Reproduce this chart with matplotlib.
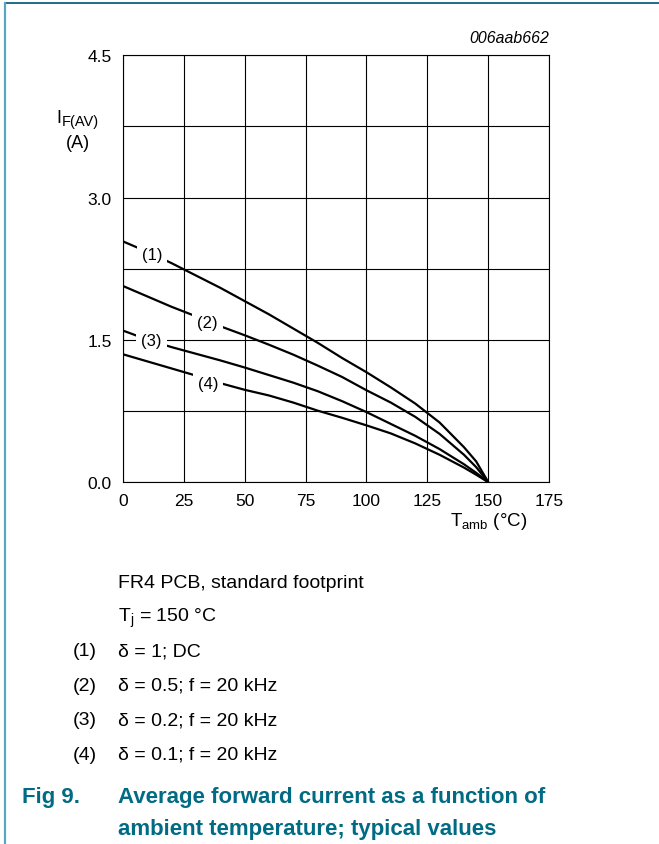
import matplotlib
matplotlib.use("Agg")
import matplotlib.pyplot as plt
from matplotlib.lines import Line2D

# data (T_amb in °C, I_F(AV) in A)
t_amb = [0, 10, 20, 30, 40, 50, 60, 70, 80, 90, 100, 110, 120, 130, 140, 145, 150]
i_dc = [2.54, 2.43, 2.31, 2.18, 2.05, 1.91, 1.77, 1.62, 1.47, 1.31, 1.16, 1.00, 0.83, 0.63, 0.37, 0.22, 0.0]
i_d05 = [2.07, 1.96, 1.85, 1.75, 1.645, 1.55, 1.45, 1.345, 1.23, 1.11, 0.97, 0.84, 0.69, 0.51, 0.29, 0.16, 0.0]
i_d02 = [1.60, 1.505, 1.425, 1.355, 1.285, 1.21, 1.13, 1.05, 0.96, 0.855, 0.74, 0.615, 0.49, 0.35, 0.19, 0.10, 0.0]
i_d01 = [1.35, 1.275, 1.20, 1.125, 1.045, 0.975, 0.915, 0.84, 0.755, 0.68, 0.60, 0.515, 0.41, 0.29, 0.155, 0.08, 0.0]

curve_labels = ["(1)", "(2)", "(3)", "(4)"]
label_pos = [(12, 2.405), (34.7, 1.686), (11.9, 1.492), (34.9, 1.046)]

x_ticks = [0, 25, 50, 75, 100, 125, 150, 175]
y_ticks = [0, 0.75, 1.5, 2.25, 3.0, 3.75, 4.5]
y_ticklabels = ["0.0", "", "1.5", "", "3.0", "", "4.5"]

note_fr4 = "FR4 PCB, standard footprint"
note_tj = r"T$_\mathregular{j}$ = 150 °C"
cond_ids = ["(1)", "(2)", "(3)", "(4)"]
cond_text = ["δ = 1; DC", "δ = 0.5; f = 20 kHz", "δ = 0.2; f = 20 kHz", "δ = 0.1; f = 20 kHz"]
caption = ["Average forward current as a function of", "ambient temperature; typical values"]

plt.rcParams["font.family"] = ["Liberation Sans", "DejaVu Sans"]
plt.rcParams["mathtext.fontset"] = "custom"
plt.rcParams["mathtext.rm"] = "Liberation Sans"
plt.rcParams["mathtext.it"] = "Liberation Sans"

teal = "#006b83"
W, H = 659, 845


def px(x, y):
    # pixel position (from top left) -> figure fraction
    return x / W, 1 - y / H


fig = plt.figure(figsize=(W / 100, H / 100), dpi=100)
ax = fig.add_axes([122.7 / W, 1 - 483.3 / H, 426.6 / W, 427 / H])

for ys in (i_dc, i_d05, i_d02, i_d01):
    ax.plot(t_amb, ys, color="black", lw=1.6, zorder=3, solid_capstyle="butt")

for lab, (x, y) in zip(curve_labels, label_pos):
    ax.text(x, y, lab, ha="center", va="center", fontsize=12, zorder=5,
            bbox=dict(boxstyle="square,pad=0.3", fc="white", ec="none"))

ax.set_xlim(0, 175)
ax.set_ylim(0, 4.5)
ax.set_xticks(x_ticks)
ax.set_yticks(y_ticks)
ax.set_yticklabels(y_ticklabels)
ax.tick_params(length=0, labelsize=12.5)
ax.tick_params(axis="y", pad=8)
ax.tick_params(axis="x", pad=8)
ax.grid(True, color="black", lw=0.8)
ax.set_axisbelow(True)
for s in ax.spines.values():
    s.set_linewidth(0.8)

fig.text(*px(549, 43), "006aab662", ha="right", va="baseline",
         fontsize=11.4, style="italic")

# axis titles
fig.text(*px(56, 123), "I", ha="left", va="baseline", fontsize=13)
fig.text(*px(62, 126), "F(AV)", ha="left", va="baseline", fontsize=10.5)
fig.text(*px(78, 148), "(A)", ha="center", va="baseline", fontsize=13)
fig.text(*px(527, 526.5), r"T$_\mathregular{amb}$ (°C)", ha="right",
         va="baseline", fontsize=13.5)

# notes under the chart
fig.text(*px(118, 588), note_fr4, ha="left", va="baseline", fontsize=14)
fig.text(*px(118, 622), note_tj, ha="left", va="baseline", fontsize=14)
for k, (cid, txt) in enumerate(zip(cond_ids, cond_text)):
    yb = 656.5 + 34.4 * k
    fig.text(*px(73, yb), cid, ha="left", va="baseline", fontsize=14)
    fig.text(*px(118, yb), txt, ha="left", va="baseline", fontsize=14)

fig.text(*px(22, 803), "Fig 9.", ha="left", va="baseline", fontsize=16,
         weight="bold", color=teal)
fig.text(*px(118, 803), caption[0], ha="left", va="baseline", fontsize=16,
         weight="bold", color=teal)
fig.text(*px(118, 835), caption[1], ha="left", va="baseline", fontsize=16,
         weight="bold", color=teal)

# page frame
fig.add_artist(Line2D([5 / W, 1], [1 - 3.5 / H] * 2, color="#1f6e8a", lw=1.4))
fig.add_artist(Line2D([5 / W] * 2, [0, 1 - 3.5 / H], color="#5aa6bf", lw=1.6))

fig.savefig("out.png", dpi=100)
